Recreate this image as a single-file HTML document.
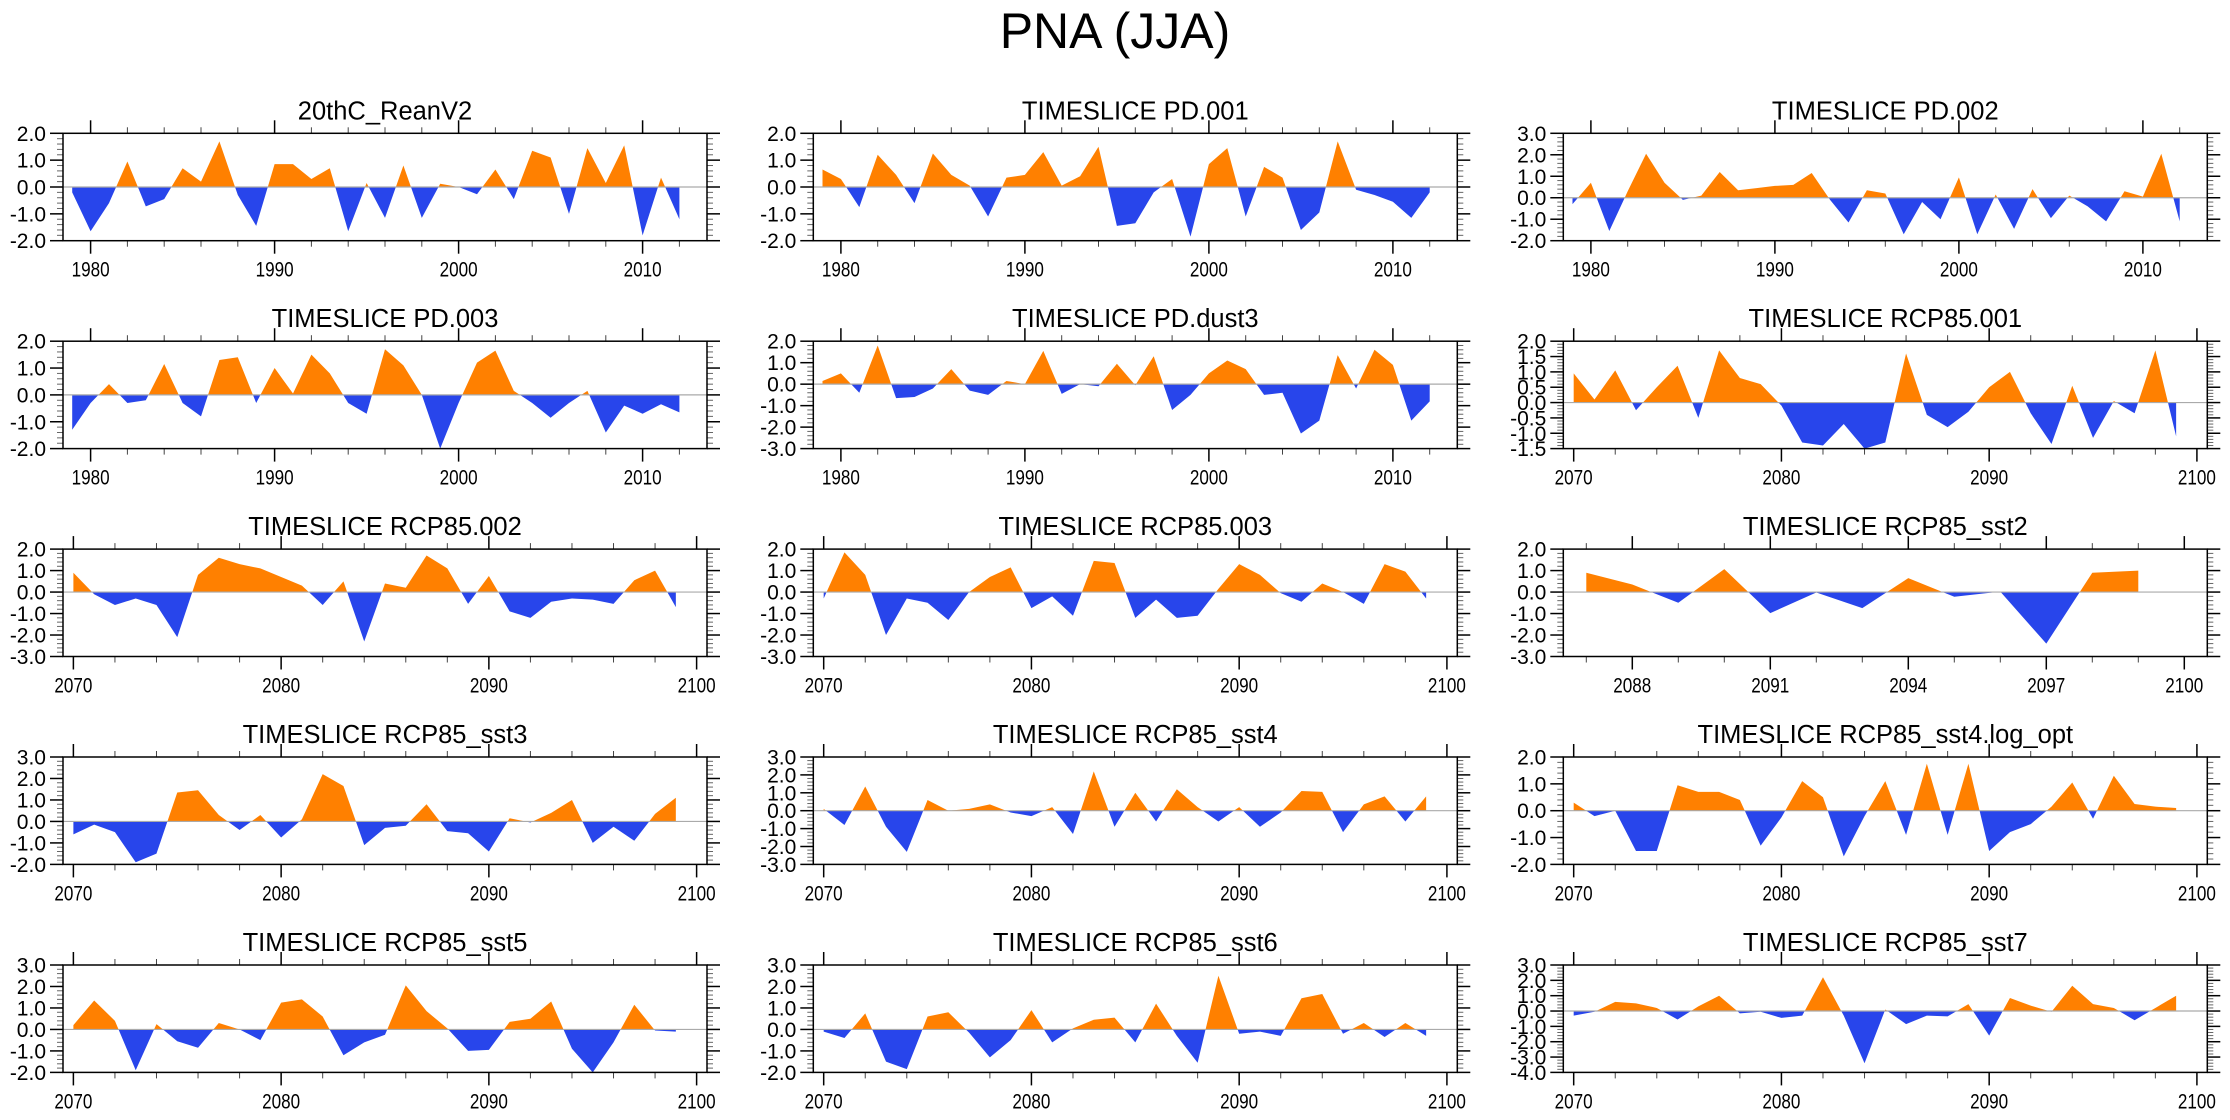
<!DOCTYPE html>
<html><head><meta charset="utf-8"><style>
html,body{margin:0;padding:0;background:#fff;}
svg{display:block;font-family:"Liberation Sans",Arial,sans-serif;}
</style></head><body>
<svg id="fig" width="2230" height="1120" viewBox="0 0 2230 1120" xmlns="http://www.w3.org/2000/svg">
<text x="1115" y="48" text-anchor="middle" font-size="50">PNA (JJA)</text>
</svg>
<script>
// ---- data ----
const titles = ["20thC_ReanV2","TIMESLICE PD.001","TIMESLICE PD.002","TIMESLICE PD.003","TIMESLICE PD.dust3","TIMESLICE RCP85.001","TIMESLICE RCP85.002","TIMESLICE RCP85.003","TIMESLICE RCP85_sst2","TIMESLICE RCP85_sst3","TIMESLICE RCP85_sst4","TIMESLICE RCP85_sst4.log_opt","TIMESLICE RCP85_sst5","TIMESLICE RCP85_sst6","TIMESLICE RCP85_sst7"];
const startYears = [1979,1979,1979,1979,1979,2070,2070,2070,2087,2070,2070,2070,2070,2070,2070];
const yMins = [-2,-2,-2,-2,-3,-1.5,-3,-3,-3,-2,-3,-2,-2,-2,-4];
const yMaxs = [2,2,3,2,2,2,2,2,2,3,3,2,3,3,3];
const yMajorSteps = [1,1,1,1,1,0.5,1,1,1,1,1,1,1,1,1];
const s20thC = [-0.2,-1.65,-0.6,0.95,-0.72,-0.45,0.7,0.2,1.7,-0.3,-1.45,0.85,0.85,0.3,0.7,-1.65,0.15,-1.15,0.8,-1.15,0.12,0.0,-0.27,0.65,-0.45,1.35,1.1,-1.0,1.45,0.15,1.55,-1.8,0.35,-1.2];
const sPD001 = [0.65,0.3,-0.75,1.2,0.45,-0.6,1.25,0.45,0.05,-1.1,0.35,0.45,1.3,0.05,0.4,1.5,-1.45,-1.35,-0.2,0.3,-1.85,0.85,1.45,-1.1,0.75,0.35,-1.6,-0.95,1.7,-0.1,-0.3,-0.55,-1.15,-0.2];
const sPD002 = [-0.3,0.7,-1.55,0.3,2.05,0.7,-0.1,0.1,1.2,0.35,0.45,0.55,0.6,1.15,-0.1,-1.15,0.35,0.2,-1.7,-0.2,-1.0,0.95,-1.7,0.15,-1.45,0.4,-0.95,0.1,-0.4,-1.1,0.3,0.05,2.05,-1.1];
const sPD003 = [-1.3,-0.3,0.4,-0.3,-0.2,1.15,-0.3,-0.8,1.3,1.4,-0.3,1.0,0.05,1.5,0.8,-0.3,-0.7,1.7,1.1,0.0,-2.0,-0.3,1.2,1.65,0.15,-0.3,-0.85,-0.3,0.15,-1.4,-0.4,-0.7,-0.35,-0.65];
const sPDdust3 = [0.15,0.5,-0.4,1.8,-0.65,-0.6,-0.2,0.7,-0.3,-0.5,0.15,0.0,1.55,-0.45,0.0,-0.1,0.95,-0.05,1.3,-1.2,-0.5,0.5,1.1,0.7,-0.5,-0.4,-2.3,-1.7,1.35,-0.2,1.6,0.9,-1.7,-0.8];
const sR001 = [0.95,0.1,1.05,-0.25,0.5,1.2,-0.5,1.7,0.8,0.6,-0.1,-1.3,-1.4,-0.7,-1.5,-1.3,1.6,-0.4,-0.8,-0.3,0.5,1.0,-0.35,-1.35,0.55,-1.15,0.05,-0.35,1.7,-1.1];
const sR002 = [0.9,-0.1,-0.6,-0.3,-0.6,-2.1,0.8,1.6,1.3,1.1,0.7,0.3,-0.6,0.5,-2.3,0.4,0.2,1.7,1.1,-0.55,0.75,-0.9,-1.2,-0.45,-0.3,-0.35,-0.55,0.55,1.0,-0.7];
const sR003 = [-0.3,1.85,0.8,-2.0,-0.3,-0.5,-1.3,0.0,0.7,1.15,-0.75,-0.2,-1.1,1.45,1.35,-1.2,-0.35,-1.2,-1.1,0.15,1.3,0.8,-0.05,-0.45,0.4,0.0,-0.55,1.3,0.95,-0.3];
const sSst2 = [0.9,0.35,-0.5,1.07,-0.98,-0.02,-0.75,0.65,-0.22,0.02,-2.4,0.9,1.0];
const sSst3 = [-0.6,-0.15,-0.5,-1.9,-1.5,1.35,1.45,0.3,-0.4,0.3,-0.75,0.1,2.2,1.65,-1.1,-0.3,-0.2,0.8,-0.45,-0.55,-1.4,0.15,-0.05,0.4,1.0,-1.0,-0.25,-0.9,0.35,1.1];
const sSst4 = [0.1,-0.8,1.35,-0.9,-2.3,0.6,0.0,0.1,0.35,-0.1,-0.3,0.2,-1.3,2.2,-0.9,1.0,-0.6,1.2,0.2,-0.6,0.2,-0.9,-0.1,1.1,1.05,-1.2,0.35,0.8,-0.6,0.8];
const sSst4log = [0.3,-0.2,0.0,-1.5,-1.5,0.95,0.7,0.7,0.4,-1.3,-0.25,1.1,0.5,-1.7,-0.2,1.1,-0.9,1.75,-0.9,1.75,-1.5,-0.8,-0.5,0.15,1.05,-0.3,1.3,0.25,0.15,0.1];
const sSst5 = [0.2,1.35,0.4,-1.9,0.25,-0.55,-0.85,0.3,0.0,-0.5,1.25,1.4,0.6,-1.2,-0.6,-0.25,2.05,0.85,0.05,-1.0,-0.95,0.35,0.5,1.3,-0.9,-2.0,-0.6,1.15,-0.05,-0.1];
const sSst6 = [-0.1,-0.4,0.75,-1.5,-1.85,0.6,0.8,-0.15,-1.3,-0.5,0.9,-0.6,0.05,0.45,0.55,-0.6,1.2,-0.3,-1.55,2.5,-0.2,-0.1,-0.3,1.45,1.65,-0.2,0.3,-0.35,0.3,-0.3];
const sSst7 = [-0.3,-0.05,0.6,0.5,0.2,-0.55,0.3,1.0,-0.15,-0.05,-0.45,-0.3,2.2,-0.3,-3.4,0.1,-0.85,-0.3,-0.35,0.45,-1.6,0.85,0.35,-0.05,1.65,0.45,0.2,-0.6,0.2,1.0];
const seriesList = [s20thC,sPD001,sPD002,sPD003,sPDdust3,sR001,sR002,sR003,sSst2,sSst3,sSst4,sSst4log,sSst5,sSst6,sSst7];

// ---- layout ----
const NS = "http://www.w3.org/2000/svg";
const svg = document.getElementById('fig');
const colLeft = [63, 813.3, 1563.3];
const rowTop = [133.3, 341.2, 549.1, 757, 965];
const boxW = 644, boxH = 107.4;
function mk(tag, attrs, parent){
  const e = document.createElementNS(NS, tag);
  for (const k in attrs) e.setAttribute(k, attrs[k]);
  (parent||svg).appendChild(e);
  return e;
}
function fmt(v){ return (Math.abs(v)<1e-9?0:v).toFixed(1); }

for (let p = 0; p < 15; p++) {
  const L = colLeft[p % 3], T = rowTop[Math.floor(p / 3)], R = L + boxW, B = T + boxH;
  const s0 = startYears[p];
  let xmin, xmax, tStart, tStep, mStep;
  if (s0 === 1979) { xmin = 1978.5; xmax = 2013.5; tStart = 1980; tStep = 10; mStep = 2; }
  else if (s0 === 2087) { xmin = 2086.5; xmax = 2100.5; tStart = 2088; tStep = 3; mStep = 1; }
  else { xmin = 2069.5; xmax = 2100.5; tStart = 2070; tStep = 10; mStep = 2; }
  const ymin = yMins[p], ymax = yMaxs[p];
  const xs = yr => L + (yr - xmin) / (xmax - xmin) * boxW;
  const ys = v => B - (v - ymin) / (ymax - ymin) * boxH;

  const g = mk('g', {});
  
  

  const t = mk('text', {x: (L + R) / 2, y: T - 14, 'text-anchor': 'middle', 'font-size': 25.5}, g);
  
  
  t.textContent = titles[p];

  const data = seriesList[p];
  const z = ys(0);
  const defs = mk('defs', {}, g);
  const cpU = mk('clipPath', {id: 'cu' + p}, defs);
  mk('rect', {x: L, y: T, width: boxW, height: Math.max(0, z - T)}, cpU);
  const cpD = mk('clipPath', {id: 'cd' + p}, defs);
  mk('rect', {x: L, y: z, width: boxW, height: Math.max(0, B - z)}, cpD);
  let d = 'M' + xs(s0) + ',' + z;
  data.forEach((v, i) => { d += ' L' + xs(s0 + i).toFixed(2) + ',' + ys(v).toFixed(2); });
  d += ' L' + xs(s0 + data.length - 1) + ',' + z + ' Z';
  const pu = mk('path', {d: d, fill: '#ff8000', 'clip-path': 'url(#cu' + p + ')'}, g);
  
  
  const pd = mk('path', {d: d, fill: '#2845eb', 'clip-path': 'url(#cd' + p + ')'}, g);
  
  
  const zl = mk('line', {x1: L, x2: R, y1: z, y2: z, stroke: '#aaa', 'stroke-width': 1.2}, g);
  
  

  const tk = mk('g', {stroke: '#000', 'stroke-width': 1.5}, g);
  
  
  for (let yr = Math.ceil(xmin); yr <= xmax; yr++) {
    if ((yr - tStart) % mStep !== 0) continue;
    const major = ((yr - tStart) % tStep === 0);
    const len = major ? 13 : 6, x = xs(yr);
    mk('line', {x1: x, x2: x, y1: T, y2: T - len, 'stroke-width': major ? 1.5 : 1, stroke: major ? '#000' : '#444'}, tk);
    mk('line', {x1: x, x2: x, y1: B, y2: B + len, 'stroke-width': major ? 1.5 : 1, stroke: major ? '#000' : '#444'}, tk);
    if (major) {
      const lt = mk('text', {x: x, y: B + 36, 'text-anchor': 'middle', 'font-size': 21, stroke: 'none', fill: '#000', textLength: 38, lengthAdjust: 'spacingAndGlyphs'}, g);
      
      
      lt.textContent = yr;
    }
  }
  const yStep = yMajorSteps[p], yMinor = yStep / 5;
  const nMin = Math.round((ymax - ymin) / yMinor);
  for (let i = 0; i <= nMin; i++) {
    const v = ymin + i * yMinor, y = ys(v);
    const major = (i % 5 === 0);
    const len = major ? 13 : 6;
    mk('line', {x1: L, x2: L - len, y1: y, y2: y, 'stroke-width': major ? 1.5 : 1, stroke: major ? '#000' : '#666'}, tk);
    mk('line', {x1: R, x2: R + len, y1: y, y2: y, 'stroke-width': major ? 1.5 : 1, stroke: major ? '#000' : '#666'}, tk);
    if (major) {
      const lt = mk('text', {x: L - 17, y: y + 7.5, 'text-anchor': 'end', 'font-size': 21, stroke: 'none', fill: '#000'}, g);
      
      
      lt.textContent = fmt(v);
    }
  }
  const bx = mk('rect', {x: L, y: T, width: boxW, height: boxH, fill: 'none', stroke: '#000', 'stroke-width': 1.5}, g);
  
  
}
</script>
</body></html>
